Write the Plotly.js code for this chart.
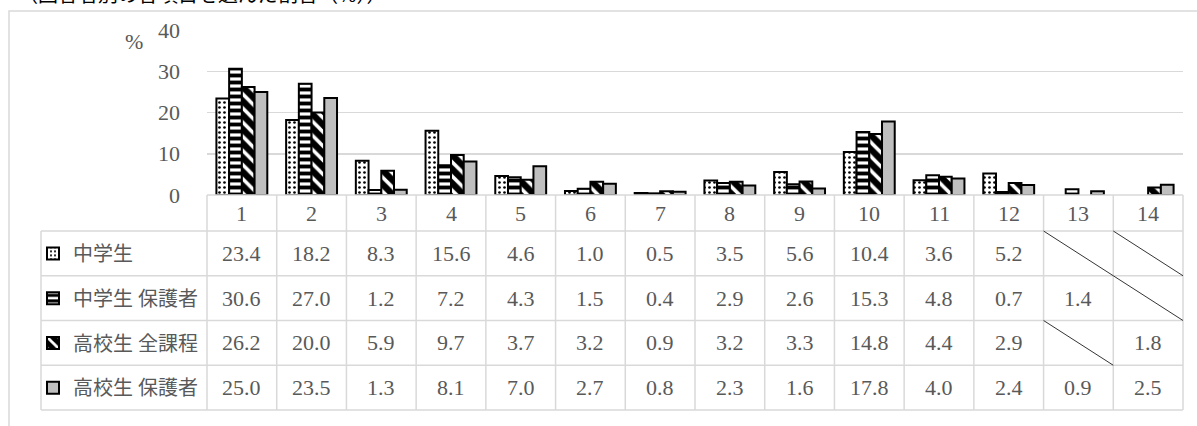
<!DOCTYPE html>
<html>
<head>
<meta charset="utf-8">
<script src="https://cdn.plot.ly/plotly-3.0.1.min.js"></script>
<style>html,body{margin:0;padding:0;background:#fff;}#chart{width:1197px;height:426px;}</style>
</head>
<body>
<div id="chart"></div>
<script>
// ---- data ----
const categories = ["1","2","3","4","5","6","7","8","9","10","11","12","13","14"];
const seriesNames = ["中学生","中学生 保護者","高校生 全課程","高校生 保護者"];
const juniorHigh = [23.4,18.2,8.3,15.6,4.6,1.0,0.5,3.5,5.6,10.4,3.6,5.2,null,null];
const juniorHighParents = [30.6,27.0,1.2,7.2,4.3,1.5,0.4,2.9,2.6,15.3,4.8,0.7,1.4,null];
const highSchoolAll = [26.2,20.0,5.9,9.7,3.7,3.2,0.9,3.2,3.3,14.8,4.4,2.9,null,1.8];
const highSchoolParents = [25.0,23.5,1.3,8.1,7.0,2.7,0.8,2.3,1.6,17.8,4.0,2.4,0.9,2.5];
const yTicks = [0,10,20,30,40];
const titleText = "（回答者別の各項目を選んだ割合（%））";
const unitText = "%";

// ---- geometry ----
const W = 1197, H = 426;
const L = 207, R = 14, T = 30, B = 231;
const PW = W - L - R, PH = H - T - B;
const xp = px => (px - L) / PW;
const yp = py => (H - B - py) / PH;

const allSeries = [juniorHigh, juniorHighParents, highSchoolAll, highSchoolParents];
const grey = '#d9d9d9';
const textCol = '#595959';
const numFont = {family: 'Liberation Serif, Noto Sans CJK JP, serif', size: 22, color: textCol};
const cjkFont = {family: 'Liberation Serif, Noto Sans CJK JP, serif', size: 20, color: textCol};

const patterns = [
  {shape: '.', bgcolor: '#ffffff', fgcolor: '#000000', fgopacity: 1, size: 5, solidity: 0.22},
  {shape: '-', bgcolor: '#ffffff', fgcolor: '#000000', fgopacity: 1, size: 7, solidity: 0.55},
  {shape: '\\', bgcolor: '#000000', fgcolor: '#ffffff', fgopacity: 1, size: 10, solidity: 0.35},
  {shape: '', bgcolor: '#bfbfbf', fgcolor: '#bfbfbf', fgopacity: 1, size: 8, solidity: 0.3}
];

const traces = allSeries.map((vals, k) => ({
  type: 'bar',
  x: categories,
  y: vals,
  name: seriesNames[k],
  legend: k === 0 ? 'legend' : 'legend' + (k + 1),
  marker: {
    color: k === 3 ? '#bfbfbf' : (k === 2 ? '#000000' : '#ffffff'),
    line: {color: '#000000', width: 2},
    pattern: patterns[k]
  },
  hoverinfo: 'skip'
}));

// table geometry (pixels)
const headerTop = H - B, headerBottom = 231;
const rowH = 44.75;
const legendLeft = 41;
const rowTop = k => headerBottom + k * rowH;
const n = categories.length;

const shapes = [];
const lineStyle = {color: grey, width: 1.5};
// outer frame
shapes.push({type: 'rect', xref: 'paper', yref: 'paper', x0: xp(9), x1: xp(W + 10), y0: yp(11), y1: yp(H + 10), line: lineStyle, layer: 'below'});
// header top line (axis baseline)
shapes.push({type: 'line', xref: 'paper', yref: 'paper', x0: 0, x1: 1, y0: yp(headerTop), y1: yp(headerTop), line: lineStyle});
// horizontal row lines
for (let k = 0; k <= seriesNames.length; k++) {
  const y = yp(rowTop(k));
  shapes.push({type: 'line', xref: 'paper', yref: 'paper', x0: xp(legendLeft), x1: 1, y0: y, y1: y, line: lineStyle});
}
// vertical column lines
for (let i = 0; i <= n; i++) {
  shapes.push({type: 'line', xref: 'paper', yref: 'paper', x0: i / n, x1: i / n, y0: yp(headerTop), y1: yp(rowTop(seriesNames.length)), line: lineStyle});
}
shapes.push({type: 'line', xref: 'paper', yref: 'paper', x0: xp(legendLeft), x1: xp(legendLeft), y0: yp(rowTop(0)), y1: yp(rowTop(seriesNames.length)), line: lineStyle});
// diagonals for missing values
allSeries.forEach((vals, k) => {
  vals.forEach((v, i) => {
    if (v === null) {
      shapes.push({type: 'line', xref: 'paper', yref: 'paper', x0: i / n, x1: (i + 1) / n, y0: yp(rowTop(k)), y1: yp(rowTop(k + 1)), line: {color: '#000000', width: 0.8}});
    }
  });
});

const annotations = [];
// header numbers (category index positions on the category axis)
categories.forEach((c, i) => {
  annotations.push({xref: 'x', yref: 'paper', x: i, y: yp((headerTop + headerBottom) / 2), text: c, showarrow: false, font: numFont, xanchor: 'center', yanchor: 'middle'});
});
// cell values
allSeries.forEach((vals, k) => {
  vals.forEach((v, i) => {
    if (v !== null) {
      annotations.push({xref: 'x', yref: 'paper', x: i, y: yp(rowTop(k) + rowH / 2), text: v.toFixed(1), showarrow: false, font: numFont, xanchor: 'center', yanchor: 'middle'});
    }
  });
});
// unit
annotations.push({xref: 'paper', yref: 'paper', x: xp(134), y: yp(41), text: unitText, showarrow: false, font: {family: 'Liberation Serif, serif', size: 22, color: textCol}, xanchor: 'center', yanchor: 'middle'});
// title (cut off at the top edge, as in the reference)
annotations.push({xref: 'paper', yref: 'paper', x: xp(16), y: yp(10), text: titleText, showarrow: false, font: {family: 'Noto Sans CJK JP, sans-serif', size: 20, color: '#000000'}, xanchor: 'left', yanchor: 'bottom'});

const legendBase = {xref: 'paper', yref: 'paper', xanchor: 'left', yanchor: 'middle', bgcolor: 'rgba(0,0,0,0)', borderwidth: 0, font: cjkFont, x: xp(33)};
const layout = {
  width: W, height: H,
  margin: {l: L, r: R, t: T, b: B, pad: 0},
  paper_bgcolor: '#ffffff', plot_bgcolor: '#ffffff',
  barmode: 'group', bargap: 0.27, bargroupgap: 0,
  xaxis: {type: 'category', range: [-0.5, n - 0.5], showticklabels: false, ticks: '', showgrid: false, zeroline: false, showline: false, fixedrange: true},
  yaxis: {range: [0, 40], tickvals: yTicks, ticktext: yTicks.map(String), showgrid: true, gridcolor: grey, gridwidth: 1.5, zeroline: false, showline: false, ticks: '', ticklabelstandoff: 26, tickfont: numFont, fixedrange: true},
  shapes: shapes,
  annotations: annotations,
  showlegend: true,
  legend: Object.assign({}, legendBase, {y: yp(rowTop(0) + rowH / 2)}),
  legend2: Object.assign({}, legendBase, {y: yp(rowTop(1) + rowH / 2)}),
  legend3: Object.assign({}, legendBase, {y: yp(rowTop(2) + rowH / 2)}),
  legend4: Object.assign({}, legendBase, {y: yp(rowTop(3) + rowH / 2)})
};

Plotly.newPlot('chart', traces, layout, {staticPlot: true, displayModeBar: false});
</script>
</body>
</html>
